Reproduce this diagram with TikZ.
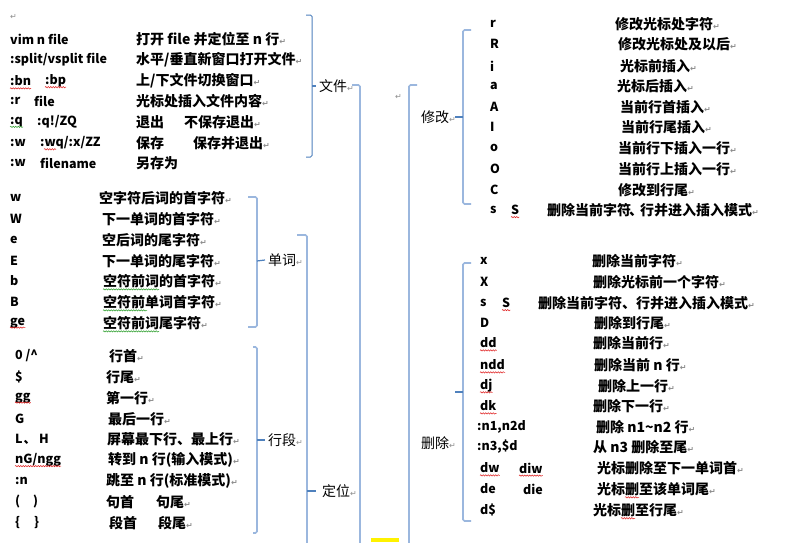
\documentclass[tikz,border=0pt]{standalone}
\usepackage{fontspec}
\usepackage{xcolor}
\usetikzlibrary{calc,decorations.pathmorphing}
\setmainfont{Carlito}
\newfontfamily\cjk{Noto Sans CJK SC}
\newfontfamily\symfont{DejaVu Sans}
\definecolor{brkblue}{HTML}{9BB7DE}
\definecolor{brkdark}{HTML}{4F81BD}
\definecolor{retgray}{HTML}{8C8C8C}
\definecolor{typored}{HTML}{E02020}
\definecolor{typogreen}{HTML}{30A030}
\newcommand\ret{{\symfont\color{retgray}\fontsize{8}{8}\selectfont ↵}}

\begin{document}
\begin{tikzpicture}[
 x=1pt,y=-1pt,
 vkey/.style={anchor=west,inner sep=0pt,font=\cjk\bfseries\fontsize{12.5}{15}\selectfont},
 vdesc/.style={anchor=west,inner sep=0pt,font=\cjk\bfseries\fontsize{14}{16}\selectfont},
 vtag/.style={anchor=west,inner sep=0pt,font=\cjk\fontsize{14}{16}\selectfont},
 vmark/.style={anchor=west,inner sep=0pt},
 vbrk/.style={draw=brkblue,line width=1.6pt,rounded corners=1.5pt},
 vbrkdark/.style={draw=brkdark,line width=1pt,rounded corners=1.5pt},
 vtick/.style={draw=brkdark,line width=1.2pt},
 vtypo/.style={draw=typored,line width=.5pt,decorate,
 decoration={snake,segment length=2.5pt,amplitude=.7pt}},
 vgram/.style={vtypo,draw=typogreen}]
\useasboundingbox (0,0) rectangle (792,542);
\fill[white] (0,0) rectangle (792,542);
% file commands
\node[vmark] (ret0) at (10,17) {\ret};
\node[vkey] (f1k) at (10,39) {vim n file};
\node[vdesc] (f1d) at (136,39) {打开 file 并定位至 n 行\ret};
\node[vkey] (f2k) at (10,60) {:split/vsplit file};
\node[vdesc] (f2d) at (136,60) {水平/垂直新窗口打开文件\ret};
\node[vkey] (f3k) at (10,81) {:bn};
\node[vkey] (f3kb) at (45,81) {:bp};
\node[vdesc] (f3d) at (136,81) {上/下文件切换窗口\ret};
\node[vkey] (f4k) at (10,101) {:r};
\node[vkey] (f4kb) at (34,101) {file};
\node[vdesc] (f4d) at (136,101) {光标处插入文件内容\ret};
\node[vkey] (f5k) at (10,122) {:q};
\node[vkey] (f5kb) at (37,122) {:q!/ZQ};
\node[vdesc] (f5d) at (136,122) {退出};
\node[vdesc] (f5db) at (184,122) {不保存退出\ret};
\node[vkey] (f6k) at (10,143) {:w};
\node[vkey] (f6kb) at (40,143) {:wq/:x/ZZ};
\node[vdesc] (f6d) at (136,143) {保存};
\node[vdesc] (f6db) at (193,143) {保存并退出\ret};
\node[vkey] (f7k) at (10,163) {:w};
\node[vkey] (f7kb) at (40,163) {filename};
\node[vdesc] (f7d) at (136,163) {另存为};
% word motions
\node[vkey] (w1k) at (10,198) {w};
\node[vdesc] (w1d) at (99,198) {空字符后词的首字符\ret};
\node[vkey] (w2k) at (10,219) {W};
\node[vdesc] (w2d) at (102,219) {下一单词的首字符\ret};
\node[vkey] (w3k) at (10,240) {e};
\node[vdesc] (w3d) at (102,240) {空后词的尾字符\ret};
\node[vkey] (w4k) at (10,261) {E};
\node[vdesc] (w4d) at (102,261) {下一单词的尾字符\ret};
\node[vkey] (w5k) at (10,281) {b};
\node[vdesc] (w5d) at (103,281) {空符前词的首字符\ret};
\node[vkey] (w6k) at (10,302) {B};
\node[vdesc] (w6d) at (103,302) {空符前单词首字符\ret};
\node[vkey] (w7k) at (10,323) {ge};
\node[vdesc] (w7d) at (103,323) {空符前词尾字符\ret};
% line motions
\node[vkey] (l1k) at (15,356) {0 /\textasciicircum};
\node[vdesc] (l1d) at (109,356) {行首\ret};
\node[vkey] (l2k) at (15,377) {\$};
\node[vdesc] (l2d) at (106,377) {行尾\ret};
\node[vkey] (l3k) at (15,398) {gg};
\node[vdesc] (l3d) at (106,398) {第一行\ret};
\node[vkey] (l4k) at (15,419) {G};
\node[vdesc] (l4d) at (108,419) {最后一行\ret};
\node[vkey] (l5k) at (15,439) {L\hspace{1pt}、\hspace{3pt}H};
\node[vdesc] (l5d) at (107,439) {屏幕最下行、最上行\ret};
\node[vkey] (l6k) at (15,460) {nG/ngg};
\node[vdesc] (l6d) at (108,460) {转到 n 行(输入模式)\ret};
\node[vkey] (l7k) at (15,481) {:n};
\node[vdesc] (l7d) at (106,481) {跳至 n 行(标准模式)\ret};
\node[vkey] (l8k) at (15,502) {(};
\node[vkey] (l8kb) at (33,502) {)};
\node[vdesc] (l8d) at (106,502) {句首};
\node[vdesc] (l8db) at (156,502) {句尾\ret};
\node[vkey] (l9k) at (15,523) {\{};
\node[vkey] (l9kb) at (34,523) {\}};
\node[vdesc] (l9d) at (109,523) {段首};
\node[vdesc] (l9db) at (158,523) {段尾\ret};
% group labels
\node[vtag] (lfile) at (319,86) {文件\ret};
\node[vtag] (lword) at (268,260) {单词\ret};
\node[vtag] (lline) at (268,440) {行段\ret};
\node[vtag] (lpos) at (322,491) {定位\ret};
\node[vmark] (ret1) at (395,97) {\ret};
\node[vtag] (lmod) at (421,117) {修改\ret};
\node[vtag] (ldel) at (421,443) {删除\ret};
% modify commands
\node[vkey] (m1k) at (490,24) {r};
\node[vdesc] (m1d) at (615,24) {修改光标处字符\ret};
\node[vkey] (m2k) at (490,44) {R};
\node[vdesc] (m2d) at (618,44) {修改光标处及以后\ret};
\node[vkey] (m3k) at (490,66) {i};
\node[vdesc] (m3d) at (620,66) {光标前插入\ret};
\node[vkey] (m4k) at (490,86) {a};
\node[vdesc] (m4d) at (617,86) {光标后插入\ret};
\node[vkey] (m5k) at (490,107) {A};
\node[vdesc] (m5d) at (620,107) {当前行首插入\ret};
\node[vkey] (m6k) at (490,127) {I};
\node[vdesc] (m6d) at (621,127) {当前行尾插入\ret};
\node[vkey] (m7k) at (490,148) {o};
\node[vdesc] (m7d) at (618,148) {当前行下插入一行\ret};
\node[vkey] (m8k) at (490,169) {O};
\node[vdesc] (m8d) at (618,169) {当前行上插入一行\ret};
\node[vkey] (m9k) at (490,190) {C};
\node[vdesc] (m9d) at (618,190) {修改到行尾\ret};
\node[vkey] (m10k) at (490,210) {s};
\node[vkey] (m10kb) at (511,210) {S};
\node[vdesc] (m10d) at (547,210) {删除当前字符\hspace{-2pt}、\hspace{-3pt}行并进入插入模式\ret};
% delete commands
\node[vkey] (d1k) at (480,261) {x};
\node[vdesc] (d1d) at (592,261) {删除当前字符\ret};
\node[vkey] (d2k) at (480,282) {X};
\node[vdesc] (d2d) at (593,282) {删除光标前一个字符\ret};
\node[vkey] (d3k) at (480,303) {s};
\node[vkey] (d3kb) at (502,303) {S};
\node[vdesc] (d3d) at (538,303) {删除当前字符、行并进入插入模式\ret};
\node[vkey] (d4k) at (480,323) {D};
\node[vdesc] (d4d) at (594,323) {删除到行尾\ret};
\node[vkey] (d5k) at (480,343) {dd};
\node[vdesc] (d5d) at (593,343) {删除当前行\ret};
\node[vkey] (d6k) at (480,365) {ndd};
\node[vdesc] (d6d) at (594,365) {删除当前 n 行\ret};
\node[vkey] (d7k) at (480,386) {dj};
\node[vdesc] (d7d) at (598,386) {删除上一行\ret};
\node[vkey] (d8k) at (480,406) {dk};
\node[vdesc] (d8d) at (593,406) {删除下一行\ret};
\node[vkey] (d9k) at (477,427) {:n1,n2d};
\node[vdesc] (d9d) at (596,427) {删除 n1\textasciitilde n2 行\ret};
\node[vkey] (d10k) at (477,447) {:n3,\$d};
\node[vdesc] (d10d) at (593,447) {从 n3 删除至尾\ret};
\node[vkey] (d11k) at (480,468) {dw};
\node[vkey] (d11kb) at (519,468) {diw};
\node[vdesc] (d11d) at (597,468) {光标删除至下一单词首\ret};
\node[vkey] (d12k) at (480,489) {de};
\node[vkey] (d12kb) at (523,489) {die};
\node[vdesc] (d12d) at (597,489) {光标删至该单词尾\ret};
\node[vkey] (d13k) at (480,510) {d\$};
\node[vdesc] (d13d) at (593,510) {光标删至行尾\ret};
% spelling marks
\foreach \w in {f3k,f3kb,l3k,l6k,w7k,m10kb,d3kb,d5k,d6k,d7k,d8k,d11k,d11kb}
 \draw[vtypo] ([yshift=-2.5pt]\w.base west) -- ([yshift=-2.5pt]\w.base east);
\draw[vtypo] ([xshift=4pt,yshift=-2.5pt]f6kb.base west) -- ([xshift=16pt,yshift=-2.5pt]f6kb.base west);
\draw[vgram] ([yshift=-2.5pt]f5k.base west) -- ([yshift=-2.5pt]f5k.base east);
\draw[vgram] ([yshift=-3pt]w5d.base west) -- ([xshift=56pt,yshift=-3pt]w5d.base west);
\draw[vgram] ([yshift=-3pt]w6d.base west) -- ([xshift=44pt,yshift=-3pt]w6d.base west);
\draw[vgram] ([yshift=-3pt]w7d.base west) -- ([xshift=56pt,yshift=-3pt]w7d.base west);
\draw[vtypo] ([xshift=28pt,yshift=-3pt]d12d.base west) -- ([xshift=42pt,yshift=-3pt]d12d.base west);
\draw[vtypo] ([xshift=28pt,yshift=-3pt]d13d.base west) -- ([xshift=42pt,yshift=-3pt]d13d.base west);
% brackets
\draw[vbrkdark] (306,15) -| (312,157) -- (306,157);
\draw[vtick] (312,86) -- ([xshift=-3pt]lfile.west);
\draw[vbrk] (352,85) -| (360,545);
\draw[vbrk] (417,85) -| (409,545);
\draw[vbrk] (248,197) -| (257,327) -- (248,327);
\draw[vtick] (257,261) -- ([xshift=-3pt]lword.west);
\draw[vbrk] (297,235) -| (307,545);
\draw[vtick] (307,491) -- ([xshift=-6pt]lpos.west);
\draw[vbrk] (253,347) -| (257,533) -- (253,533);
\draw[vtick] (257,440) -- ([xshift=-3pt]lline.west);
\draw[vbrk] (471,30) -| (463,204) -- (471,204);
\draw[vtick] (463,117) -- (455,117);
\draw[vbrk] (471,263) -| (463,521) -- (471,521);
\draw[vtick] (463,392) -- (455,392);
\fill[yellow] (371,538) rectangle (399,542);
\end{tikzpicture}
\end{document}
